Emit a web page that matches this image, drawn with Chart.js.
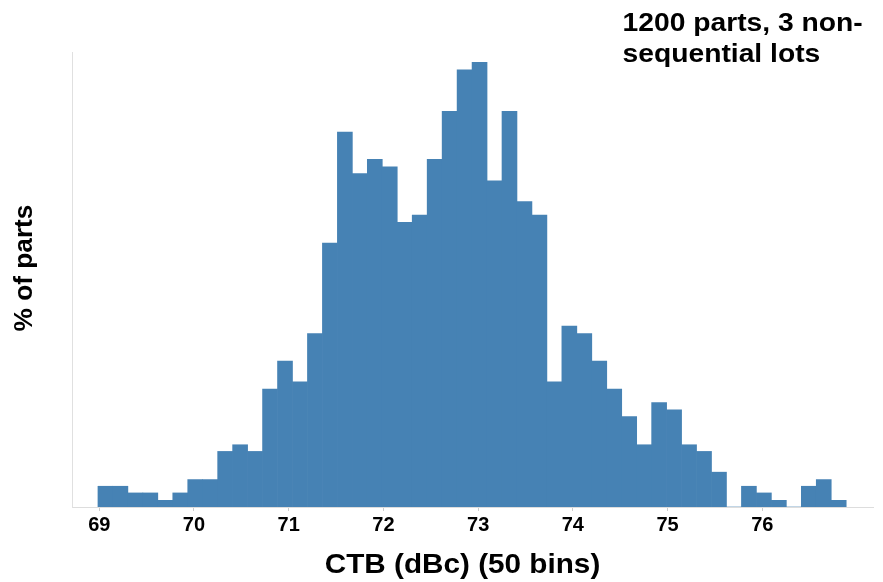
<!DOCTYPE html>
<html>
<head>
<meta charset="utf-8">
<script src="https://cdn.jsdelivr.net/npm/chart.js@4"></script>
<style>
html,body{margin:0;padding:0;background:#fff;}
#wrap{width:883px;height:582px;}
</style>
</head>
<body>
<div id="wrap"><canvas id="c" width="883" height="582"></canvas></div>
<script>
// Bin centres (dBc), 50 bins
const binCentres = [69.065,69.223,69.381,69.539,69.697,69.855,70.013,70.171,70.329,70.487,
  70.645,70.803,70.961,71.119,71.277,71.435,71.593,71.751,71.909,72.067,
  72.225,72.383,72.541,72.699,72.857,73.015,73.173,73.331,73.489,73.647,
  73.805,73.963,74.121,74.279,74.437,74.595,74.753,74.911,75.069,75.227,
  75.385,75.543,75.701,75.859,76.017,76.175,76.333,76.491,76.649,76.807];
// % of parts per bin
const percentParts = [0.28,0.28,0.19,0.19,0.09,0.19,0.37,0.37,0.75,0.84,
  0.75,1.59,1.97,1.69,2.34,3.56,5.06,4.50,4.69,4.59,
  3.84,3.94,4.69,5.34,5.90,6.00,4.40,5.34,4.12,3.94,
  1.69,2.44,2.34,1.97,1.59,1.22,0.84,1.41,1.31,0.84,
  0.75,0.47,0.00,0.28,0.19,0.09,0.00,0.28,0.37,0.09];
const xTickValues = [69,70,71,72,73,74,75,76];
const titleLines = ["1200 parts, 3 non-", "sequential lots"];
const xTitle = "CTB (dBc) (50 bins)";
const yTitle = "% of parts";

const FONT = '"Liberation Sans", Arial, sans-serif';

const textPlugin = {
  id: 'texts',
  afterDraw(chart) {
    const ctx = chart.ctx;
    ctx.save();
    ctx.fillStyle = '#000';
    ctx.font = 'bold 25px ' + FONT;
    ctx.textAlign = 'left';
    ctx.textBaseline = 'alphabetic';
    titleLines.forEach((t, i) => {
      ctx.save();
      ctx.translate(622.5, 31 + i * 31.3);
      ctx.scale(1.13, 1);
      ctx.fillText(t, 0, 0);
      ctx.restore();
    });
    ctx.save();
    ctx.font = 'bold 27px ' + FONT;
    ctx.textAlign = 'center';
    ctx.translate(462.5, 572.7);
    ctx.scale(1.1, 1);
    ctx.fillText(xTitle, 0, 0);
    ctx.restore();
    ctx.save();
    ctx.font = 'bold 25px ' + FONT;
    ctx.textAlign = 'center';
    ctx.textBaseline = 'middle';
    ctx.translate(25, 268);
    ctx.rotate(-Math.PI / 2);
    ctx.scale(1.05, 1);
    ctx.fillText(yTitle, 0, 0);
    ctx.restore();
    ctx.restore();
  }
};

new Chart(document.getElementById('c'), {
  type: 'bar',
  data: {
    datasets: [{
      data: binCentres.map((x, i) => ({x: x, y: percentParts[i]})),
      backgroundColor: '#4682B4',
      borderWidth: 0,
      barPercentage: 1.0,
      categoryPercentage: 1.0
    }]
  },
  options: {
    responsive: false,
    animation: false,
    events: [],
    layout: { padding: { left: 72, right: 10, top: 52, bottom: 43 } },
    plugins: { legend: { display: false }, tooltip: { enabled: false }, title: { display: false } },
    scales: {
      x: {
        type: 'linear',
        offset: false,
        min: 68.712,
        max: 77.169,
        afterBuildTicks(scale) { scale.ticks = xTickValues.map(v => ({ value: v })); },
        ticks: {
          color: '#000',
          font: { family: FONT, size: 20, weight: 'bold' },
          padding: 2,
          maxRotation: 0,
          autoSkip: false,
          callback: (v) => String(v)
        },
        grid: { display: true, offset: false, drawOnChartArea: false, drawTicks: true, tickLength: 4, color: '#cccccc' },
        border: { display: true, color: '#dddddd', width: 1 }
      },
      y: {
        min: 0,
        max: 6.14,
        ticks: { display: false },
        grid: { display: false, drawTicks: false },
        border: { display: true, color: '#e0e0e0', width: 1 }
      }
    }
  },
  plugins: [textPlugin]
});
</script>
</body>
</html>
